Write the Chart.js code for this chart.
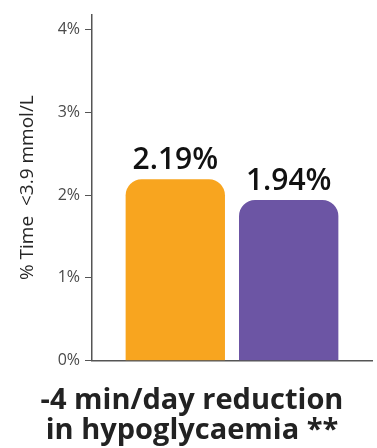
<!DOCTYPE html>
<html>
<head>
<meta charset="utf-8">
<script src="https://cdn.jsdelivr.net/npm/chart.js@4.4.1/dist/chart.umd.min.js"></script>
<style>
  html, body { margin: 0; padding: 0; background: #fff; }
  #wrap { width: 377px; height: 448px; }
</style>
</head>
<body>
<div id="wrap"><canvas id="hypoChart"></canvas></div>
<script>
// Data
const categories = ['Time below range'];
const seriesNames = ['Comparator', 'Treatment'];
const seriesValues = [2.19, 1.94];
const seriesColors = ['#F8A51F', '#6C55A4'];
const yTicks = [0, 1, 2, 3, 4];
const yTitle = '% Time  <3.9 mmol/L';
const footerLines = ['-4 min/day reduction', 'in hypoglycaemia **'];

// Value labels above bars
const valueLabels = {
  id: 'valueLabels',
  afterDatasetsDraw(chart) {
    const ctx = chart.ctx;
    ctx.save();
    ctx.font = '600 30px "Open Sans"';
    ctx.fillStyle = '#111';
    ctx.textAlign = 'center';
    ctx.textBaseline = 'alphabetic';
    chart.data.datasets.forEach((ds, i) => {
      chart.getDatasetMeta(i).data.forEach((bar, j) => {
        ctx.fillText(ds.data[j].toFixed(2) + '%', bar.x, bar.y - 10);
      });
    });
    ctx.restore();
  }
};

// Rotated y title, slightly condensed so it fits the axis height
const yAxisTitle = {
  id: 'yAxisTitle',
  afterDraw(chart) {
    const ctx = chart.ctx;
    const area = chart.chartArea;
    ctx.save();
    ctx.translate(33, (area.top + area.bottom) / 2);
    ctx.rotate(-Math.PI / 2);
    ctx.font = '500 19px "Open Sans"';
    ctx.fillStyle = '#262626';
    ctx.textAlign = 'center';
    ctx.textBaseline = 'alphabetic';
    ctx.fillText(yTitle, 0, 0, 190);
    ctx.restore();
  }
};

const datasets = seriesNames.map((name, i) => ({
  label: name,
  data: [seriesValues[i]],
  backgroundColor: seriesColors[i],
  borderRadius: { topLeft: 16, topRight: 16 },
  borderSkipped: 'bottom',
  barPercentage: 0.876,
  categoryPercentage: 0.81
}));

const config = {
  type: 'bar',
  data: { labels: categories, datasets },
  options: {
    responsive: true,
    maintainAspectRatio: false,
    animation: false,
    layout: { padding: { top: 10, right: 5, left: 12, bottom: 0 } },
    plugins: {
      legend: { display: false },
      tooltip: { enabled: false },
      title: {
        display: true,
        position: 'bottom',
        text: footerLines,
        color: '#222',
        font: { family: 'Open Sans', size: 29, weight: 'bold', lineHeight: 1.04 },
        padding: { top: 25, bottom: 2 }
      }
    },
    scales: {
      x: {
        ticks: { display: false },
        grid: { display: false, drawTicks: false },
        border: { display: true, color: '#555', width: 1.5 },
        afterFit(scale) { scale.height = 0; }
      },
      y: {
        min: 0,
        max: 4.18,
        afterBuildTicks(scale) {
          scale.ticks = yTicks.map(v => ({ value: v }));
        },
        afterFit(scale) { scale.width = 80; },
        ticks: {
          color: '#4a4a4a',
          padding: 5,
          font: { family: 'Open Sans', size: 16 },
          callback: v => v + '%'
        },
        grid: { drawOnChartArea: false, drawTicks: true, tickLength: 7, color: '#555' },
        border: { display: true, color: '#555', width: 1.5 }
      }
    }
  },
  plugins: [valueLabels, yAxisTitle]
};

new Chart(document.getElementById('hypoChart'), config);
</script>
</body>
</html>
